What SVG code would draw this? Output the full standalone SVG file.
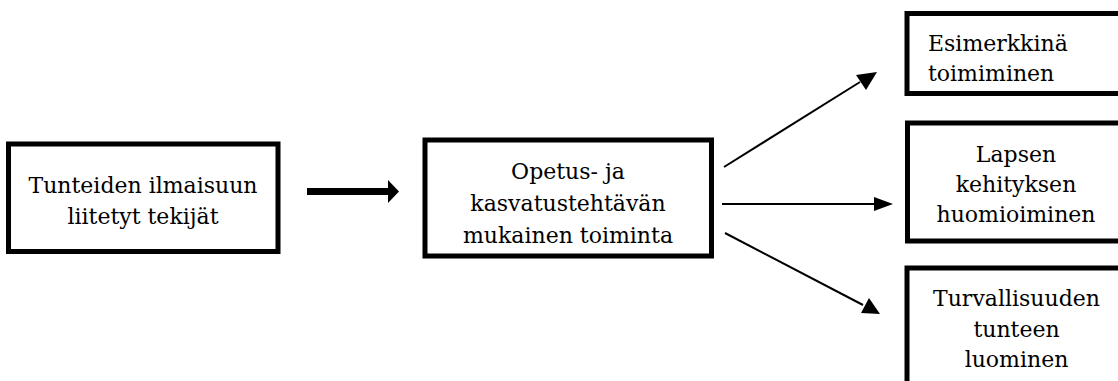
<svg xmlns="http://www.w3.org/2000/svg" width="1118" height="381" viewBox="0 0 1118 381">
<style>
.box{fill:#fff;stroke:#000;stroke-width:5}
.t{font-family:'DejaVu Serif',serif;font-size:22px;fill:#000}
.c{text-anchor:middle}
.ln{stroke:#000;stroke-width:2;fill:none}
</style>
<rect width="1118" height="381" fill="#fff"/>
<g id="n1">
<rect class="box" x="8.5" y="144" width="269.5" height="107.5"/>
<text class="t c" x="143" y="193">Tunteiden ilmaisuun</text>
<text class="t c" x="143" y="224">liitetyt tekijät</text>
</g>
<g id="n2">
<rect class="box" x="425" y="140" width="286.5" height="116"/>
<text class="t c" x="568" y="179">Opetus- ja</text>
<text class="t c" x="568" y="211">kasvatustehtävän</text>
<text class="t c" x="568" y="243">mukainen toiminta</text>
</g>
<g id="n3">
<rect class="box" x="907" y="13.5" width="225" height="80"/>
<text class="t" x="928" y="51">Esimerkkinä</text>
<text class="t" x="928" y="81">toimiminen</text>
</g>
<g id="n4">
<rect class="box" x="907.5" y="123" width="225" height="118"/>
<text class="t c" x="1016" y="162">Lapsen</text>
<text class="t c" x="1016" y="192">kehityksen</text>
<text class="t c" x="1016" y="222">huomioiminen</text>
</g>
<g id="n5">
<rect class="box" x="907" y="268" width="225" height="140"/>
<text class="t c" x="1016.5" y="306">Turvallisuuden</text>
<text class="t c" x="1016.5" y="337">tunteen</text>
<text class="t c" x="1016.5" y="367">luominen</text>
</g>
<g id="connectors">
<path d="M307,188 H388 V180 L399,191.5 L388,203 V195 H307 Z" fill="#000"/>
<line class="ln" x1="724" y1="167" x2="860" y2="82"/>
<path d="M877,72 L856,75 L866,90 Z" fill="#000"/>
<line class="ln" x1="722" y1="204" x2="875" y2="204"/>
<path d="M893,204 L874,197 L874,211 Z" fill="#000"/>
<line class="ln" x1="725" y1="233" x2="863" y2="305"/>
<path d="M880,314 L869,298 L861,313 Z" fill="#000"/>
</g>
</svg>
